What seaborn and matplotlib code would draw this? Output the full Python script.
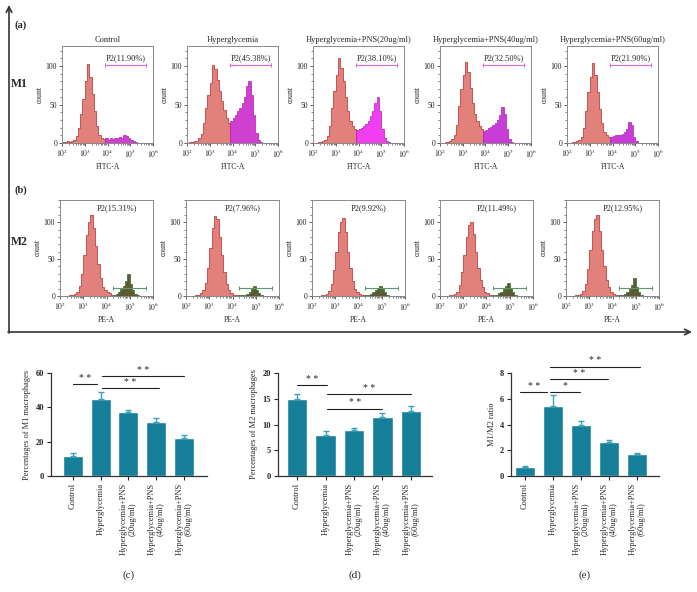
import numpy as np
import pandas as pd
import matplotlib
matplotlib.use("Agg")
import matplotlib.pyplot as plt
import seaborn as sns
from matplotlib.ticker import FixedLocator, FuncFormatter, MultipleLocator

sns.set_style("ticks")
plt.rcParams['font.family'] = ['Liberation Serif', 'DejaVu Serif']
plt.rcParams['mathtext.fontset'] = 'stix'

# ---- flow cytometry histograms (counts per 0.1 decade bin, 10^2 .. 10^6) ----
bin_edges = np.round(np.arange(2.0, 6.05, 0.1), 2)
bin_centers = bin_edges[:-1] + 0.05

groups = ["Control", "Hyperglycemia", "Hyperglycemia+PNS(20ug/ml)",
          "Hyperglycemia+PNS(40ug/ml)", "Hyperglycemia+PNS(60ug/ml)"]

# M1 (FITC-A), gate starts at 10^3.9
m1_control = [1, 1, 2, 1, 3, 4, 9, 20, 38, 57, 80, 103, 86, 64, 41, 22, 10, 7, 5,
              6, 4, 6, 5, 7, 6, 8, 7, 10, 9, 7, 4, 2, 1, 0, 0, 0, 0, 0, 0, 0]
m1_hyper = [0, 1, 1, 2, 3, 6, 12, 26, 46, 62, 78, 101, 96, 82, 68, 55, 43, 33, 26,
            28, 33, 37, 42, 46, 52, 60, 74, 81, 63, 36, 13, 4, 1, 0, 0, 0, 0, 0, 0, 0]
m1_pns20 = [0, 0, 1, 1, 2, 4, 9, 22, 45, 68, 88, 110, 98, 80, 60, 42, 28, 22, 18,
            17, 18, 20, 22, 25, 29, 35, 42, 52, 60, 42, 18, 6, 2, 1, 0, 0, 0, 0, 0, 0]
m1_pns40 = [0, 0, 1, 1, 2, 5, 10, 24, 48, 70, 88, 105, 92, 72, 52, 38, 28, 22, 18,
            15, 17, 19, 21, 24, 26, 30, 36, 47, 38, 18, 5, 1, 0, 0, 0, 0, 0, 0, 0, 0]
m1_pns60 = [0, 0, 1, 1, 2, 4, 8, 20, 42, 66, 86, 104, 88, 66, 44, 26, 14, 10, 8,
            8, 9, 10, 10, 11, 12, 14, 18, 27, 24, 8, 2, 0, 0, 0, 0, 0, 0, 0, 0, 0]
m1_pct_text = ["11.90", "45.38", "38.10", "32.50", "21.90"]

# M2 (PE-A), gate starts at 10^4.3
m2_control = [0, 0, 0, 0, 1, 2, 3, 6, 14, 30, 55, 82, 100, 110, 92, 68, 44, 24, 12, 8, 6, 4, 2,
              1, 3, 5, 9, 13, 20, 30, 16, 8, 3, 1, 0, 0, 0, 0, 0, 0]
m2_hyper = [0, 0, 0, 0, 1, 2, 4, 8, 18, 38, 65, 92, 108, 104, 80, 55, 32, 16, 8, 4, 2, 1, 1,
            1, 1, 2, 3, 6, 10, 14, 8, 4, 1, 0, 0, 0, 0, 0, 0, 0]
m2_pns20 = [0, 0, 0, 0, 1, 2, 3, 7, 16, 35, 60, 86, 100, 106, 86, 60, 38, 20, 10, 5, 3, 2, 1,
            1, 2, 3, 5, 8, 11, 14, 9, 5, 2, 0, 0, 0, 0, 0, 0, 0]
m2_pns40 = [0, 0, 0, 0, 1, 2, 3, 6, 15, 32, 56, 80, 96, 100, 84, 60, 38, 22, 12, 6, 4, 2, 1,
            1, 2, 4, 6, 10, 14, 17, 11, 6, 2, 0, 0, 0, 0, 0, 0, 0]
m2_pns60 = [0, 0, 0, 0, 1, 2, 3, 7, 16, 36, 62, 88, 104, 110, 88, 62, 40, 22, 12, 6, 3, 2, 1,
            1, 2, 3, 6, 10, 15, 24, 12, 5, 2, 0, 0, 0, 0, 0, 0, 0]
m2_pct_text = ["15.31", "7.96", "9.92", "11.49", "12.95"]

# ---- bar charts ----
bar_labels = ["Control", "Hyperglycemia", "Hyperglycemia+PNS\n(20ug/ml)",
              "Hyperglycemia+PNS\n(40ug/ml)", "Hyperglycemia+PNS\n(60ug/ml)"]
m1_pct = [11.8, 44.7, 37.0, 31.3, 22.2]
m1_err = [1.5, 4.5, 1.2, 2.2, 1.4]
m2_pct = [15.0, 8.0, 9.0, 11.4, 12.6]
m2_err = [1.0, 0.7, 0.4, 0.8, 0.9]
ratio = [0.70, 5.45, 3.97, 2.63, 1.69]
ratio_err = [0.07, 0.85, 0.30, 0.17, 0.09]

# significance brackets: (start, end, height, text)
m1_sig = [(0, 0.85, 53.4, "* *"), (1.05, 3.1, 51.1, "* *"), (1.05, 4.0, 58.3, "* *")]
m2_sig = [(0, 1.05, 17.7, "* *"), (1.05, 3.0, 13.1, "* *"), (1.05, 4.0, 15.9, "* *")]
ratio_sig = [(-0.18, 0.8, 6.54, "* *"), (0.89, 1.96, 6.54, "*"),
             (0.89, 2.98, 7.53, "* *"), (0.89, 4.1, 8.5, "* *")]

W, H = 697, 592
fig = plt.figure(figsize=(W / 100, H / 100), dpi=100)

def px_axes(left, top, width, height):
    return fig.add_axes([left / W, 1 - (top + height) / H, width / W, height / H])

RED_FACE = "#e2807b"
RED_EDGE = "#b32a27"
log_minor = [np.log10(k) + n for n in range(2, 6) for k in range(2, 10)]

def draw_hist(ax, counts, gate, face, edge, ymax):
    df = pd.DataFrame({"x": bin_centers, "w": counts})
    sns.histplot(data=df.iloc[:gate], x="x", weights="w", bins=list(bin_edges[:gate + 1]),
                 element="step", fill=True, color=RED_FACE, edgecolor=RED_EDGE,
                 alpha=1, linewidth=0.5, ax=ax)
    sns.histplot(data=df.iloc[gate:], x="x", weights="w", bins=list(bin_edges[gate:]),
                 element="step", fill=True, color=face, edgecolor=edge,
                 alpha=1, linewidth=0.5, ax=ax)
    ax.set_xlim(2, 6)
    ax.set_ylim(0, ymax)
    ax.xaxis.set_major_locator(FixedLocator([2, 3, 4, 5, 6]))
    ax.xaxis.set_major_formatter(FuncFormatter(lambda v, p: "$10^{%d}$" % int(round(v))))
    ax.xaxis.set_minor_locator(FixedLocator(log_minor))
    ax.set_yticks([0, 50, 100])
    ax.yaxis.set_minor_locator(MultipleLocator(10))
    ax.tick_params(labelsize=5.5, length=2, width=0.5, pad=1.5, colors="#222")
    ax.tick_params(which="minor", length=1.2, width=0.4)
    for s in ax.spines.values():
        s.set_color("#8a8a8a")
        s.set_linewidth(0.7)
    ax.set_ylabel("count", fontsize=5.5, labelpad=1.5)

m1_sets = [m1_control, m1_hyper, m1_pns20, m1_pns40, m1_pns60]
m2_sets = [m2_control, m2_hyper, m2_pns20, m2_pns40, m2_pns60]
lefts1 = [62, 187, 313, 440, 567]
lefts2 = [60, 186, 312, 440, 566]
magentas = ["#d040d0", "#d040d0", "#f03ef0", "#c83cd8", "#c83cd8"]

for i in range(5):
    ax = px_axes(lefts1[i], 46, 91, 97)
    draw_hist(ax, m1_sets[i], 19, magentas[i], "#b020b0", 126)
    ax.set_xlabel("FITC-A", fontsize=5.5, labelpad=2)
    ax.set_title(groups[i], fontsize=6, pad=3)
    ax.plot([3.9, 5.7], [101, 101], color="#d86ad8", lw=0.8, marker="|", ms=3, mew=0.8)
    ax.text(4.8, 105, "P2(%s%%)" % m1_pct_text[i], fontsize=6, ha="center", va="bottom")

    ax = px_axes(lefts2[i], 200, 93, 96)
    draw_hist(ax, m2_sets[i], 23, "#5c5a30", "#2f6a2f", 130)
    ax.set_xlabel("PE-A", fontsize=5.5, labelpad=2)
    ax.plot([4.3, 5.7], [11, 11], color="#5a9a6a", lw=0.8, marker="|", ms=3, mew=0.8)
    ax.text(4.45, 113, "P2(%s%%)" % m2_pct_text[i], fontsize=6, ha="center", va="bottom")

TEAL = "#167f99"
ERR = "#3aa3b8"

def draw_bars(ax, vals, errs, ylim, yticks, ylabel, xlim, sigs):
    sns.barplot(x=bar_labels, y=vals, color=TEAL, saturation=1, width=0.72,
                errorbar=None, ax=ax)
    ax.errorbar(range(len(vals)), vals, yerr=[np.zeros(len(vals)), errs], fmt="none",
                ecolor=ERR, elinewidth=1, capsize=2.5, capthick=1, zorder=3)
    ax.set_ylim(*ylim)
    ax.set_xlim(*xlim)
    ax.set_yticks(yticks)
    ax.set_ylabel(ylabel, fontsize=6, labelpad=3)
    ax.set_xticks(range(len(vals)))
    ax.set_xticklabels(bar_labels, rotation=90, fontsize=6, linespacing=1.1)
    for lab in ax.get_yticklabels():
        lab.set_fontweight("bold")
    ax.tick_params(axis="y", labelsize=6, length=3, width=0.8, pad=2)
    ax.tick_params(axis="x", length=3, width=0.8, pad=2)
    sns.despine(ax=ax)
    for s in ["left", "bottom"]:
        ax.spines[s].set_color("#333")
        ax.spines[s].set_linewidth(0.9)
    span = ylim[1] - ylim[0]
    for x0, x1, y, txt in sigs:
        ax.plot([x0, x1], [y, y], color="#222", lw=0.8, clip_on=False)
        ax.text((x0 + x1) / 2, y + span * 0.012, txt, fontsize=7, ha="center",
                va="bottom", clip_on=False)

axc = px_axes(51, 373, 156, 103)
draw_bars(axc, m1_pct, m1_err, (0, 60), [0, 20, 40, 60],
          "Percentages of M1 macrophages", (-0.79, 4.83), m1_sig)
axd = px_axes(278, 373, 154, 103)
draw_bars(axd, m2_pct, m2_err, (0, 20), [0, 5, 10, 15, 20],
          "Percentages of M2 macrophages", (-0.67, 4.74), m2_sig)
axe = px_axes(511, 373, 148, 103)
draw_bars(axe, ratio, ratio_err, (0, 8), [0, 2, 4, 6, 8],
          "M1/M2 ratio", (-0.5, 4.79), ratio_sig)

# overlay for frame arrows and panel letters
ov = fig.add_axes([0, 0, 1, 1], zorder=-1)
ov.set_xlim(0, W)
ov.set_ylim(H, 0)
ov.axis("off")
ov.annotate("", xy=(9, 5), xytext=(9, 333),
            arrowprops=dict(arrowstyle="->", lw=1.2, color="#333", shrinkA=0, shrinkB=0))
ov.annotate("", xy=(692, 332), xytext=(8, 332),
            arrowprops=dict(arrowstyle="->", lw=1.2, color="#333", shrinkA=0, shrinkB=0))
ov.text(21, 25, "(a)", fontsize=7.5, fontweight="bold", ha="center", va="center")
ov.text(19, 84, "M1", fontsize=8.5, fontweight="bold", ha="center", va="center")
ov.text(21, 190, "(b)", fontsize=7.5, fontweight="bold", ha="center", va="center")
ov.text(19, 242, "M2", fontsize=8.5, fontweight="bold", ha="center", va="center")
ov.text(129, 575, "(c)", fontsize=8, ha="center", va="center")
ov.text(355, 575, "(d)", fontsize=8, ha="center", va="center")
ov.text(585, 575, "(e)", fontsize=8, ha="center", va="center")

fig.savefig("out.png", dpi=100)
